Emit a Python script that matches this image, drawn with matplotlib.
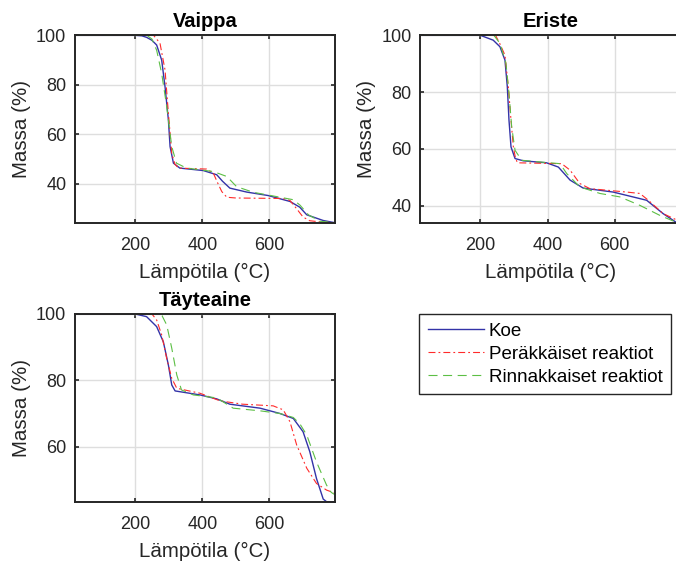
import matplotlib
matplotlib.use("Agg")
import matplotlib.pyplot as plt

plt.rcParams['font.family'] = ['Liberation Sans', 'DejaVu Sans']
plt.rcParams['lines.scale_dashes'] = False

# Vaippa
vaippa_koe_T = [20, 200, 220, 234, 250, 264, 279, 289, 299, 304, 314, 333, 403, 443, 460, 482, 532, 596, 661, 690, 711, 760, 795]
vaippa_koe_M = [100, 100, 99.8, 99.2, 98, 96.1, 90, 79.2, 65.8, 55, 48.3, 46.3, 45.3, 43.6, 41, 38.2, 36.6, 35.2, 32.8, 30.5, 27.4, 25.1, 24.2]
vaippa_per_T = [20, 255, 274, 289, 299, 309, 318, 329, 413, 433, 445, 458, 473, 500, 640, 661, 680, 700, 720, 760, 795]
vaippa_per_M = [100, 100, 96.8, 86, 68.5, 52.3, 48, 46.3, 45.9, 44.2, 40.5, 36.8, 34.5, 34.2, 34.0, 33.2, 30, 26.5, 25, 24.4, 24.2]
vaippa_rin_T = [20, 235, 250, 264, 279, 294, 309, 323, 353, 433, 473, 502, 552, 612, 671, 691, 716, 750, 795]
vaippa_rin_M = [100, 100, 98.5, 94, 84.6, 71.2, 55, 48.3, 46.3, 44.9, 42.9, 38.8, 36.5, 35, 33.5, 31.3, 27.4, 24.8, 24.2]

# Eriste
eriste_koe_T = [20, 200, 238, 258, 273, 280, 285, 291, 303, 328, 397, 432, 467, 506, 595, 695, 744, 782, 795]
eriste_koe_M = [100, 100, 98.3, 96, 91.3, 81.9, 70.1, 60.7, 56.6, 55.8, 55.1, 53.6, 49, 46.2, 44.8, 41.9, 37.2, 34.2, 33.5]
eriste_per_T = [20, 245, 258, 273, 283, 291, 298, 304, 310, 442, 467, 496, 526, 635, 675, 700, 744, 782, 795]
eriste_per_M = [100, 100, 97, 93, 81.9, 70.1, 60.7, 57, 55.1, 54.8, 52.5, 47.8, 46, 44.8, 44.3, 41.9, 37.2, 35.1, 34.5]
eriste_rin_T = [20, 240, 258, 276, 285, 293, 303, 323, 377, 437, 457, 496, 556, 615, 675, 734, 782, 795]
eriste_rin_M = [100, 100, 97.2, 90.1, 79.5, 67.8, 59.5, 56, 55.4, 54.8, 51.3, 46.6, 44.3, 43.1, 40.1, 36.6, 34.2, 33.5]

# Täyteaine
tayte_koe_T = [20, 200, 234, 264, 284, 299, 309, 319, 393, 443, 482, 572, 631, 671, 700, 720, 740, 760, 770, 795]
tayte_koe_M = [100, 100, 99.2, 96.2, 91.6, 84.6, 78.6, 76.8, 75.6, 74.4, 72.8, 71.6, 70, 68.5, 64.5, 58.5, 50.4, 44.2, 43.4, 43.4]
tayte_per_T = [20, 250, 264, 279, 294, 309, 324, 393, 453, 520, 611, 641, 661, 681, 711, 740, 770, 795]
tayte_per_M = [100, 100, 98.2, 93.7, 86.6, 80.6, 77.6, 76.1, 73.8, 72.8, 72.3, 71.1, 67.5, 60.5, 53.5, 48.9, 46.9, 46]
tayte_rin_T = [20, 265, 280, 294, 309, 324, 338, 373, 443, 492, 572, 631, 671, 691, 711, 740, 770, 784, 795]
tayte_rin_M = [100, 100, 99.5, 96.7, 89.7, 81.6, 77.1, 75.6, 74.7, 71.6, 70.8, 70, 68.8, 66.8, 63.5, 55.4, 48.4, 46.2, 45.5]

labels = ['Koe', 'Peräkkäiset reaktiot', 'Rinnakkaiset reaktiot']

panels = [
    ('Vaippa', [0.1105, 0.603, 0.385, 0.334], (24.2, 100), [40, 60, 80, 100],
     [(vaippa_koe_T, vaippa_koe_M), (vaippa_per_T, vaippa_per_M), (vaippa_rin_T, vaippa_rin_M)]),
    ('Eriste', [0.6213, 0.603, 0.385, 0.334], (34, 100), [40, 60, 80, 100],
     [(eriste_koe_T, eriste_koe_M), (eriste_per_T, eriste_per_M), (eriste_rin_T, eriste_rin_M)]),
    ('Täyteaine', [0.1105, 0.1057, 0.385, 0.3346], (43.4, 100), [60, 80, 100],
     [(tayte_koe_T, tayte_koe_M), (tayte_per_T, tayte_per_M), (tayte_rin_T, tayte_rin_M)]),
]

styles = [
    dict(color='#3333a8', lw=1.0, ls='-'),
    dict(color='#ff2a2a', lw=0.8, dashes=(5, 2.2, 1.3, 2.2)),
    dict(color='#5cbf45', lw=0.8, dashes=(6.5, 4)),
]

fig = plt.figure(figsize=(6.76, 5.61), dpi=100)
handles = []
for title, pos, ylim, yticks, series in panels:
    ax = fig.add_axes(pos)
    handles = []
    for (T, M), st in zip(series, styles):
        h, = ax.plot(T, M, **st)
        handles.append(h)
    ax.set_xlim(20, 795)
    ax.set_ylim(*ylim)
    ax.set_xticks([200, 400, 600])
    ax.set_yticks(yticks)
    ax.grid(True, color='#dedede', lw=1.0)
    ax.set_axisbelow(True)
    for s in ax.spines.values():
        s.set_linewidth(1.4)
        s.set_color('#262626')
    ax.tick_params(direction='in', top=True, right=True, length=3, width=1.2,
                   labelsize=13, colors='#262626')
    ax.tick_params(axis='x', pad=10)
    ax.tick_params(axis='y', pad=6)
    ax.set_title(title, fontsize=14.5, fontweight='bold', pad=6)
    ax.set_xlabel('Lämpötila (°C)', fontsize=14.8, color='#262626', labelpad=7)
    ax.set_ylabel('Massa (%)', fontsize=14.8, color='#262626', labelpad=4)

leg = fig.legend(handles, labels, loc='upper left', bbox_to_anchor=(419.3 / 676, 1 - 314 / 561),
                 fontsize=13.5, handlelength=3.0, handletextpad=0.25, labelspacing=0.32,
                 borderpad=0.45, borderaxespad=0, fancybox=False, framealpha=1)
leg.get_frame().set_edgecolor('#262626')
leg.get_frame().set_linewidth(1.0)

fig.savefig('out.png', dpi=100)
